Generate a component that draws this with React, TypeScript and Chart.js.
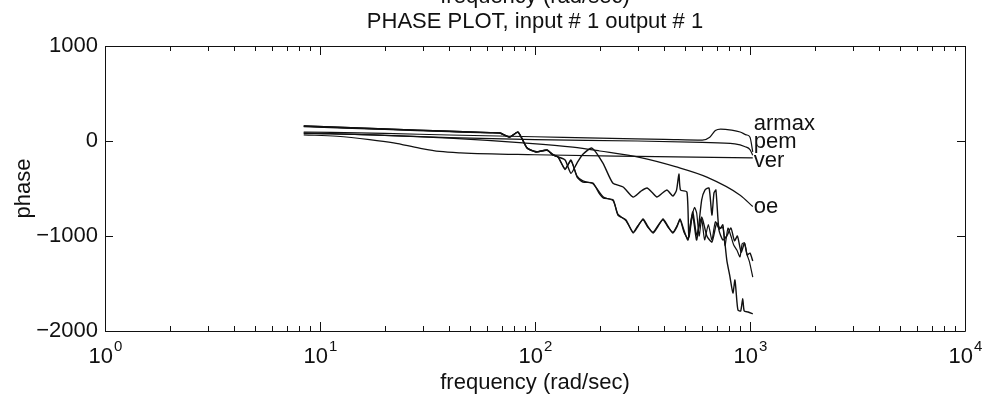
import { useEffect, useRef } from "react";
import { Chart, registerables } from "chart.js";

Chart.register(...registerables);

// ---------------- data ----------------
const xDecades = [0, 1, 2, 3, 4];
const xMinorMultipliers = [2, 3, 4, 5, 6, 7, 8, 9];
const yTickValues = [-2000, -1000, 0, 1000];

const armaxFreq = [8.4, 20, 40, 100, 200, 400, 600, 650, 690, 730, 820, 900, 960, 1000, 1030];
const armaxPhase = [95, 80, 63, 45, 30, 18, 10, 40, 110, 126, 115, 95, 65, 40, -115];

const pemFreq = [8.4, 20, 40, 100, 300, 600, 850, 950, 1000, 1030];
const pemPhase = [85, 60, 35, 15, 0, -15, -30, -60, -90, -150];

const verFreq = [8.4, 12, 17, 22, 29, 36, 45, 100, 300, 1030];
const verPhase = [65, 50, 15, -20, -75, -110, -125, -145, -162, -178];

const oeFreq = [8.4, 20, 40, 88, 150, 200, 310, 450, 630, 900, 1030];
const oePhase = [80, 60, 30, -20, -65, -105, -175, -270, -380, -570, -690];

// noisy (non-parametric) estimates
const estAFreq = [8.4, 20, 40, 62, 68.7, 76.4, 83.4, 91.8, 101, 114, 121, 128, 138, 147, 157, 167, 184, 207, 230, 257, 286, 310, 332, 350, 369, 390, 411, 425, 438, 455, 467, 475, 509, 520, 541, 565, 596, 617, 645, 665, 680, 694, 717, 748, 780, 815, 847, 874, 910, 943, 970, 1000, 1030];
const estAPhase = [158, 127, 102, 88, 84, 42, 95, -74, -116, -95, -147, -168, -200, -340, -230, -140, -74, -232, -442, -484, -590, -530, -495, -540, -590, -550, -516, -550, -579, -520, -347, -516, -537, -1010, -779, -1042, -621, -516, -495, -779, -547, -516, -937, -1042, -1000, -916, -1050, -1000, -1170, -1074, -1200, -1180, -1263];

const estBFreq = [8.4, 20, 40, 62, 68.7, 76.4, 83.4, 91.8, 101, 114, 121, 128, 138, 147, 157, 167, 186, 200, 208, 231, 243, 265, 286, 301, 318, 335, 354, 373, 394, 416, 438, 458, 473, 493, 515, 541, 565, 596, 630, 665, 700, 725, 748, 780, 807, 833, 851, 870, 880, 905, 925, 940, 980, 1030];
const estBPhase = [158, 127, 102, 88, 84, 42, 95, -74, -116, -95, -147, -168, -300, -200, -380, -432, -442, -560, -600, -621, -779, -832, -968, -900, -821, -900, -968, -900, -821, -900, -968, -900, -821, -940, -1042, -747, -990, -800, -1000, -1063, -863, -920, -905, -1253, -1430, -1600, -1463, -1700, -1780, -1790, -1660, -1790, -1800, -1820];

const estCFreq = [8.4, 20, 40, 62, 68.7, 76.4, 83.4, 91.8, 101, 114, 121, 128, 138, 147, 157, 167, 186, 208, 231, 243, 265, 286, 301, 318, 335, 354, 373, 394, 416, 438, 458, 473, 493, 515, 530, 552, 565, 580, 596, 615, 640, 665, 690, 720, 748, 765, 790, 815, 840, 870, 898, 920, 943, 970, 995, 1030];
const estCPhase = [150, 122, 98, 85, 82, 45, 90, -70, -110, -100, -140, -170, -290, -210, -370, -420, -450, -590, -630, -770, -840, -960, -890, -830, -910, -960, -890, -830, -910, -960, -890, -830, -960, -1030, -850, -700, -760, -1000, -820, -1040, -880, -1040, -850, -930, -880, -1100, -916, -1000, -1095, -1150, -1220, -1080, -1074, -1200, -1274, -1432];

const seriesLabels = ["armax", "pem", "ver", "oe"];
const labelFreq = [1030, 1030, 1030, 1030];
const labelPhase = [116, -74, -274, -758];

const titleText = "PHASE PLOT, input # 1 output # 1";
const clippedTopText = "frequency (rad/sec)";
const xTitleText = "frequency (rad/sec)";
const yTitleText = "phase";

// ---------------- styling ----------------
const FONT = '"Liberation Sans", Arial, Helvetica, sans-serif';
const INK = "#111";
const FS = 22;

const pts = (f: number[], p: number[]) => f.map((v, i) => ({ x: v, y: p[i] }));

const matlabAxes = {
  id: "matlabAxes",
  afterDraw(chart: any) {
    const { ctx, chartArea: a, scales } = chart;
    const xs = scales.x;
    const ys = scales.y;
    ctx.save();
    ctx.strokeStyle = INK;
    ctx.lineWidth = 1;
    ctx.beginPath();
    ctx.rect(Math.round(a.left) + 0.5, Math.round(a.top) + 0.5, Math.round(a.right - a.left), Math.round(a.bottom - a.top));
    ctx.stroke();

    // x ticks (inward, top and bottom)
    ctx.beginPath();
    xDecades.forEach((d) => {
      const mults = d < 4 ? [1, ...xMinorMultipliers] : [1];
      mults.forEach((m) => {
        const v = m * Math.pow(10, d);
        const px = Math.round(xs.getPixelForValue(v)) + 0.5;
        const len = m === 1 ? 9 : 5;
        ctx.moveTo(px, a.bottom);
        ctx.lineTo(px, a.bottom - len);
        ctx.moveTo(px, a.top);
        ctx.lineTo(px, a.top + len);
      });
    });
    // y ticks (inward, left and right)
    yTickValues.forEach((v) => {
      const py = Math.round(ys.getPixelForValue(v)) + 0.5;
      ctx.moveTo(a.left, py);
      ctx.lineTo(a.left + 8, py);
      ctx.moveTo(a.right, py);
      ctx.lineTo(a.right - 8, py);
    });
    ctx.stroke();

    ctx.fillStyle = INK;
    // x tick labels 10^k
    xDecades.forEach((d) => {
      const px = xs.getPixelForValue(Math.pow(10, d));
      ctx.font = `${FS}px ${FONT}`;
      const wb = ctx.measureText("10").width;
      ctx.font = `15px ${FONT}`;
      const we = ctx.measureText(String(d)).width;
      const x0 = px - (wb + we) / 2;
      ctx.textAlign = "left";
      ctx.textBaseline = "alphabetic";
      ctx.font = `${FS}px ${FONT}`;
      ctx.fillText("10", x0, a.bottom + 32);
      ctx.font = `15px ${FONT}`;
      ctx.fillText(String(d), x0 + wb + 1, a.bottom + 20);
    });

    // axis titles
    ctx.font = `${FS}px ${FONT}`;
    ctx.textAlign = "center";
    ctx.textBaseline = "alphabetic";
    const cx = (a.left + a.right) / 2;
    ctx.fillText(xTitleText, cx, a.bottom + 58);
    ctx.fillText(titleText, cx, a.top - 18);
    ctx.fillText(clippedTopText, cx, 3);
    ctx.save();
    ctx.translate(30, (a.top + a.bottom) / 2);
    ctx.rotate(-Math.PI / 2);
    ctx.fillText(yTitleText, 0, 0);
    ctx.restore();

    // curve labels
    ctx.textAlign = "left";
    ctx.font = `${FS}px ${FONT}`;
    seriesLabels.forEach((t, i) => {
      const px = xs.getPixelForValue(labelFreq[i]) + 1;
      const py = ys.getPixelForValue(labelPhase[i]);
      ctx.fillText(t, px, py);
    });
    ctx.restore();
  },
};

export default function App() {
  const ref = useRef<HTMLCanvasElement | null>(null);
  useEffect(() => {
    if (!ref.current) return;
    const smooth = { cubicInterpolationMode: "monotone" as const };
    const chart = new Chart(ref.current, {
      type: "line",
      data: {
        datasets: [
          { label: "armax", data: pts(armaxFreq, armaxPhase), borderColor: INK, borderWidth: 1.2, ...smooth },
          { label: "pem", data: pts(pemFreq, pemPhase), borderColor: INK, borderWidth: 1.2, ...smooth },
          { label: "ver", data: pts(verFreq, verPhase), borderColor: INK, borderWidth: 1.2, ...smooth },
          { label: "oe", data: pts(oeFreq, oePhase), borderColor: INK, borderWidth: 1.2, ...smooth },
          { label: "estimate A", data: pts(estAFreq, estAPhase), borderColor: INK, borderWidth: 1.4, tension: 0.2 },
          { label: "estimate B", data: pts(estBFreq, estBPhase), borderColor: INK, borderWidth: 1.4, tension: 0.2 },
          { label: "estimate C", data: pts(estCFreq, estCPhase), borderColor: INK, borderWidth: 1.2, tension: 0.2 },
        ],
      },
      options: {
        animation: false,
        responsive: false,
        devicePixelRatio: 1,
        parsing: false as any,
        layout: { padding: { top: 46, right: 21, left: 0, bottom: 0 } },
        elements: { point: { radius: 0 } },
        plugins: { legend: { display: false }, tooltip: { enabled: false }, title: { display: false } },
        scales: {
          x: {
            type: "logarithmic",
            min: 1,
            max: 10000,
            ticks: { display: false },
            grid: { display: false, drawTicks: false },
            border: { display: false },
            afterFit: (s: any) => {
              s.height = 74;
            },
          },
          y: {
            type: "linear",
            min: -2000,
            max: 1000,
            afterBuildTicks: (s: any) => {
              s.ticks = yTickValues.map((v) => ({ value: v }));
            },
            ticks: {
              color: INK,
              padding: 7,
              font: { family: FONT, size: FS },
              callback: (v: any) => (Number(v) < 0 ? "\u2212" + Math.abs(Number(v)) : String(v)),
            },
            grid: { display: false, drawTicks: false },
            border: { display: false },
            afterFit: (s: any) => {
              s.width = 105;
            },
          },
        },
      },
      plugins: [matlabAxes],
    });
    return () => chart.destroy();
  }, []);
  return (
    <div style={{ position: "fixed", left: 0, top: 0, width: 986, height: 405, background: "#fff" }}>
      <canvas ref={ref} width={986} height={405} style={{ display: "block" }} />
    </div>
  );
}
